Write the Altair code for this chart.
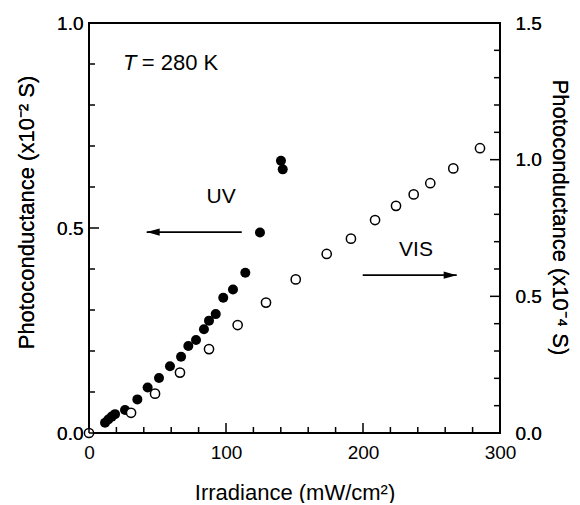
import altair as alt
import pandas as pd

# UV (filled, left axis, x10^-2 S)
uv_x = [11.7, 14.1, 16.6, 19.0, 26.3, 35.3, 42.8, 51.1, 59.1, 67.2, 72.5, 78.1, 83.9,
        87.6, 92.5, 98.0, 105.1, 114.1, 124.8, 140.1, 141.4]
uv_y = [0.025, 0.033, 0.040, 0.046, 0.056, 0.082, 0.111, 0.134, 0.163, 0.186, 0.212, 0.227,
        0.253, 0.274, 0.290, 0.330, 0.350, 0.391, 0.489, 0.664, 0.643]
# VIS (open, right axis, x10^-4 S)
vis_x = [0.0, 30.7, 48.2, 66.4, 87.6, 108.5, 129.2, 150.9, 173.5, 191.2, 208.8, 224.1,
         237.0, 249.1, 265.9, 285.4]
vis_y = [0.0, 0.074, 0.144, 0.221, 0.307, 0.395, 0.477, 0.562, 0.655, 0.711, 0.779, 0.831,
         0.873, 0.914, 0.968, 1.042]

x_ticks = [0, 20, 40, 60, 80, 100, 120, 140, 160, 180, 200, 220, 240, 260, 280, 300]
left_ticks = [0.0, 0.1, 0.2, 0.3, 0.4, 0.5, 0.6, 0.7, 0.8, 0.9, 1.0]
right_ticks = [0.0, 0.1, 0.2, 0.3, 0.4, 0.5, 0.6, 0.7, 0.8, 0.9, 1.0, 1.1, 1.2, 1.3, 1.4, 1.5]
x_major = [0, 100, 200, 300]
left_major = [0.0, 0.5, 1.0]
right_major = [0.0, 0.5, 1.0, 1.5]

# annotations (left-axis coordinates)
temp_text = ["= 280 K"]
temp_x = [38.5]
temp_y = [0.885]
band_text = ["UV", "VIS"]
band_x = [96.4, 238.7]
band_y = [0.561, 0.432]
italic_text = ["T"]
italic_x = [24.8]
italic_y = [0.885]
arrow_x = [111.5, 199.8]
arrow_tip = [42.1, 268.4]
arrow_y = [0.49, 0.385]
arrow_dir = ["left", "right"]

FONT = "Liberation Sans"
W, H = 411, 410
MAJOR, MINOR = 10, 6

uv_df = pd.DataFrame({"x": uv_x, "y": uv_y})
vis_df = pd.DataFrame({"x": vis_x, "y": vis_y})
temp_df = pd.DataFrame({"x": temp_x, "y": temp_y, "t": temp_text})
band_df = pd.DataFrame({"x": band_x, "y": band_y, "t": band_text})
ital_df = pd.DataFrame({"x": italic_x, "y": italic_y, "t": italic_text})
arr_df = pd.DataFrame({"x": arrow_x, "x2": arrow_tip, "y": arrow_y, "d": arrow_dir})

# tick segments (value, start pixel, end pixel) built from the tick lists
xt_df = pd.DataFrame({"x": [float(v) for v in x_ticks],
                      "p": [float(H)] * len(x_ticks),
                      "q": [float(H - (MAJOR if v in x_major else MINOR)) for v in x_ticks]})
lt_df = pd.DataFrame({"y": left_ticks,
                      "p": [0.0] * len(left_ticks),
                      "q": [float(MAJOR if v in left_major else MINOR) for v in left_ticks]})
rt_df = pd.DataFrame({"y": right_ticks,
                      "p": [float(W)] * len(right_ticks),
                      "q": [float(W - (MAJOR if v in right_major else MINOR)) for v in right_ticks]})

x_axis = alt.Axis(values=x_ticks, labelExpr="datum.value % 100 == 0 ? datum.label : ''",
                  ticks=False, labelPadding=10, labelFlush=False, labelOverlap=False,
                  title="Irradiance (mW/cm²)", titleY=66, titleBaseline="alphabetic")
x_scale = alt.Scale(domain=[0, 300], nice=False, zero=False)
X = alt.X("x:Q", scale=x_scale, axis=x_axis)

major_y = "abs(datum.value*2 - round(datum.value*2)) < 0.001"
left_axis = alt.Axis(orient="left", values=left_ticks, format=".1f",
                     labelExpr=major_y + " ? datum.label : ''",
                     ticks=False, labelPadding=6, labelFlush=False, labelOverlap=False,
                     title="Photoconductance (x10⁻² S)", titleAngle=-90, titleX=-56, titleY=189,
                     titleBaseline="alphabetic", titleAlign="center")
left_scale = alt.Scale(domain=[0, 1], nice=False)
YL = alt.Y("y:Q", scale=left_scale, axis=left_axis)

right_axis = alt.Axis(orient="right", values=right_ticks, format=".1f",
                      labelExpr=major_y + " ? datum.label : ''",
                      ticks=False, labelPadding=15, labelFlush=False, labelOverlap=False,
                      title="Photoconductance (x10⁻⁴ S)", titleAngle=90, titleX=52, titleY=194,
                      titleBaseline="alphabetic", titleAlign="center")
right_scale = alt.Scale(domain=[0, 1.5], nice=False)
YR = alt.Y("y:Q", scale=right_scale, axis=right_axis)

# inward tick marks, positioned along the axis by the scales
xt = alt.Chart(xt_df).mark_rule(color="black", strokeWidth=1.5).encode(
    x=X, y=alt.Y("p:Q", scale=None), y2="q:Q")
lt = alt.Chart(lt_df).mark_rule(color="black", strokeWidth=1.5).encode(
    y=YL, x=alt.X("p:Q", scale=None), x2="q:Q")
rt = alt.Chart(rt_df).mark_rule(color="black", strokeWidth=1.5).encode(
    y=YR, x=alt.X("p:Q", scale=None), x2="q:Q")

uv = alt.Chart(uv_df).mark_point(shape="circle", filled=True, color="black", opacity=1,
                                  size=100).encode(x=X, y=YL)

temp = alt.Chart(temp_df).mark_text(font=FONT, fontSize=22, baseline="alphabetic", align="left",
                                    color="black").encode(x=X, y=YL, text="t:N")
bands = alt.Chart(band_df).mark_text(font=FONT, fontSize=21, baseline="alphabetic", align="center",
                                     color="black").encode(x=X, y=YL, text="t:N")
ital = alt.Chart(ital_df).mark_text(font=FONT, fontSize=22, baseline="alphabetic", align="left",
                                    fontStyle="italic", color="black").encode(x=X, y=YL, text="t:N")

shafts = alt.Chart(arr_df).mark_rule(color="black", strokeWidth=1.6).encode(
    x=X, x2="x2:Q", y=YL)
head_l = alt.Chart(arr_df).transform_filter("datum.d == 'left'").mark_point(
    shape="M0,0L2,-0.55L2,0.55Z", filled=True, color="black", opacity=1, size=169).encode(
    x=alt.X("x2:Q", scale=x_scale, axis=x_axis), y=YL)
head_r = alt.Chart(arr_df).transform_filter("datum.d == 'right'").mark_point(
    shape="M0,0L-2,-0.55L-2,0.55Z", filled=True, color="black", opacity=1, size=169).encode(
    x=alt.X("x2:Q", scale=x_scale, axis=x_axis), y=YL)

left_layer = alt.layer(uv, shafts, head_l, head_r, temp, bands, ital)
vis = alt.Chart(vis_df).mark_point(shape="circle", filled=True, fill="white", stroke="black",
                                   strokeWidth=1.5, opacity=1, size=85).encode(x=X, y=YR)
right_layer = alt.layer(vis)

chart = alt.layer(left_layer, right_layer, xt, lt, rt).resolve_scale(y="independent").properties(
    width=W, height=H,
    autosize=alt.AutoSizeParams(type="none"),
    padding={"left": 81, "top": 15, "right": 72, "bottom": 70},
).configure_view(stroke="black", strokeWidth=2).configure_axis(
    domain=False, grid=False, labelFont=FONT, labelFontSize=19, labelColor="black",
    titleFont=FONT, titleFontSize=22, titleFontWeight="normal", titleColor="black"
)

chart.save("out.html", embed_options={"renderer": "svg", "actions": False})
